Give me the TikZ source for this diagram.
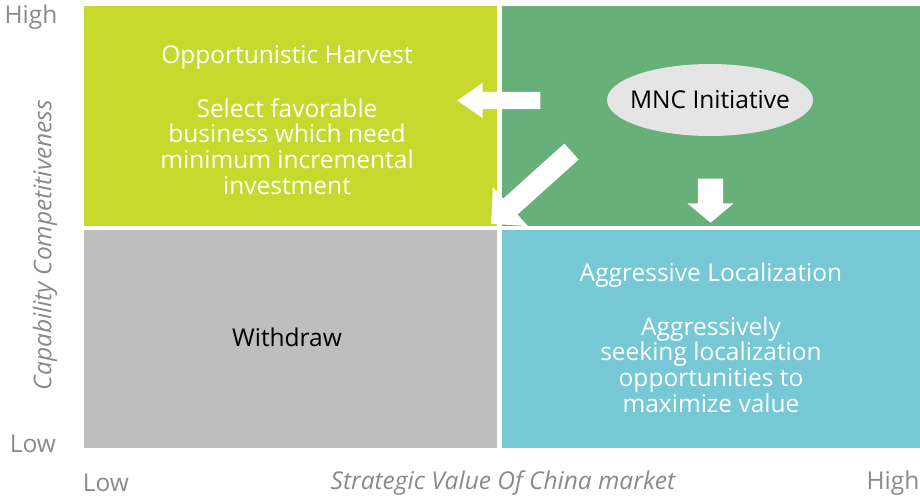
\documentclass[tikz,border=0pt]{standalone}
\usepackage{fontspec}
\setmainfont{Open Sans}
\usepackage{xcolor}
\definecolor{harvestgreen}{HTML}{C8D92E}
\definecolor{mncgreen}{HTML}{68B07A}
\definecolor{withdrawgray}{HTML}{BEBEBE}
\definecolor{localteal}{HTML}{76C8D4}
\definecolor{ovalgray}{HTML}{E5E5E5}
\definecolor{axisgray}{HTML}{8A8A8A}
\usetikzlibrary{shapes.geometric,shapes.arrows}

\begin{document}
\begin{tikzpicture}[x=1pt,y=-1pt,font=\fontsize{24.5}{25.8}\selectfont,
  quad/.style={inner sep=0pt,anchor=north west,minimum width=413pt,minimum height=220pt},
  quadtext/.style={align=center,text=white},
  axis/.style={text=axisgray,inner sep=0pt},
  blockarrow/.style={single arrow,fill=white,inner xsep=0pt,anchor=tip,
    single arrow head indent=0pt}]
  \useasboundingbox (0,0) rectangle (920,499);
  % quadrants
  \node[quad,fill=harvestgreen] (harvest) at (84,6) {};
  \node[quad,fill=mncgreen,minimum width=418pt] (mnc) at (502,6) {};
  \node[quad,fill=withdrawgray,minimum height=218pt] (withdraw) at (84,230) {};
  \node[quad,fill=localteal,minimum width=418pt,minimum height=218pt] (local) at (502,230) {};
  % quadrant texts (base = baseline of the last line)
  \node[quadtext,anchor=base] (harvesttitle) at (287,63) {Opportunistic Harvest};
  \node[quadtext,anchor=base] (harvestbody) at (287,194.4)
    {Select favorable\\business which need\\minimum incremental\\investment};
  \node[anchor=base] (withdrawtext) at (287,346) {Withdraw};
  \node[quadtext,anchor=base] (localtitle) at (711,281) {Aggressive Localization};
  \node[quadtext,anchor=base] (localbody) at (711,412.4)
    {Aggressively\\seeking localization\\opportunities to\\maximize value};
  % initiative and its moves
  \node[ellipse,fill=ovalgray,minimum width=206pt,minimum height=72pt,
    inner xsep=-20pt,inner ysep=0pt] (initiative) at (710,100) {MNC Initiative};
  \node[blockarrow,minimum height=83pt,inner ysep=8.5pt,single arrow head extend=9pt,
    single arrow tip angle=70,rotate=180] (toharvest) at (457,100.5) {};
  \node[blockarrow,minimum height=108pt,inner ysep=10.5pt,single arrow head extend=15.5pt,
    single arrow tip angle=91,rotate=222] (towithdraw) at (491,224) {};
  \node[blockarrow,minimum height=44pt,inner ysep=12.5pt,single arrow head extend=10.5pt,
    single arrow tip angle=100,rotate=270] (tolocal) at (710.5,223) {};
  % axes
  \node[axis] (yhigh) at (31,17) {High};
  \node[axis] (ylow) at (33,444) {Low};
  \node[axis,rotate=90,font=\fontsize{24.5}{26}\selectfont\itshape] (ytitle) at (45,245)
    {Capability Competitiveness};
  \node[axis] (xlow) at (106,483) {Low};
  \node[axis,font=\fontsize{24.5}{26}\selectfont\itshape] (xtitle) at (503,483)
    {Strategic Value Of China market};
  \node[axis] (xhigh) at (893,483) {High};
\end{tikzpicture}
\end{document}
